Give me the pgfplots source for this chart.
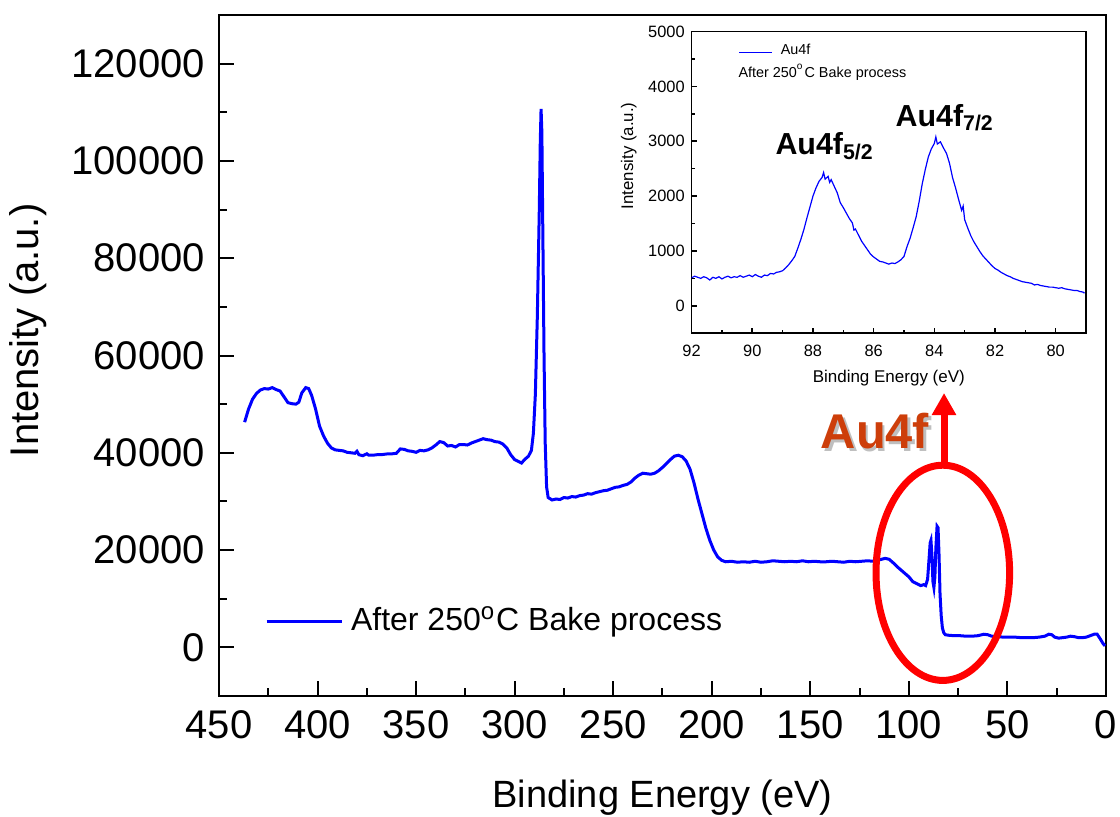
\documentclass[border=0pt]{standalone}
\usepackage{pgfplots}
\pgfplotsset{compat=1.18}
\usepackage{fontspec}
\setmainfont{Liberation Sans}
\usetikzlibrary{arrows.meta}
\definecolor{xpsblue}{RGB}{0,0,255}
\definecolor{aured}{RGB}{255,0,0}
\definecolor{aulabel}{RGB}{205,62,10}

\begin{document}
\begin{tikzpicture}
\useasboundingbox (0,0) rectangle (280pt,204pt);

% survey spectrum
\begin{axis}[
  at={(54.75pt,30pt)}, anchor=south west,
  width=221.75pt, height=170.25pt, scale only axis,
  xmin=0, xmax=450, x dir=reverse,
  ymin=-10000, ymax=130000,
  xtick={0,50,...,450}, minor x tick num=1,
  ytick={0,20000,...,120000}, minor y tick num=1,
  tick align=inside, xtick pos=bottom, ytick pos=left,
  major tick length=3.75pt, minor tick length=2pt,
  axis line style={line width=0.5pt},
  every tick/.style={black, line width=0.5pt},
  scaled ticks=false,
  /pgf/number format/fixed,
  /pgf/number format/set thousands separator={},
  /pgf/number format/assume math mode=true,
  tick label style={font=\fontsize{10}{12}\selectfont},
  xlabel={Binding Energy (eV)},
  xlabel style={font=\fontsize{9.5}{11}\selectfont, at={(axis description cs:0.5,-0.163)}, anchor=base},
  ylabel={Intensity (a.u.)},
  ylabel style={font=\fontsize{10}{12}\selectfont, at={(axis description cs:-0.215,0.537)}, anchor=center},
  legend style={draw=none, fill=none, at={(axis description cs:0.051,0.109)}, anchor=west,
    inner sep=0pt, font=\fontsize{8}{10}\selectfont},
  legend cell align=left,
  legend image code/.code={\draw[#1] (0pt,0pt) -- (18.75pt,0pt);},
]
\addplot[xpsblue, line width=0.75pt] coordinates {
(437,46300) (435,49000) (433,51000) (431,52200) (429,52900) (427,53200) (425,53100)
(423,53400) (421,53000) (419,52700) (417,51500) (415,50300) (413,50100) (411,50000)
(409.5,50400) (408,52300) (406,53400) (404.5,53200) (403,51800) (401,49000) (399,45500)
(397,43500) (395,42000) (393,41000) (391,40600) (389,40500) (387,40400) (385,40100)
(383,40000) (381,39900) (380,40300) (379,39600) (377,39400) (375,39800) (374,39500)
(372,39500) (370,39600) (368,39600) (366,39700) (364,39800) (362,39800) (360,39900)
(358,40800) (356,40700) (354,40400) (352,40300) (350,40100) (348,40500) (346,40400)
(344,40600) (342,41000) (340,41600) (338,42300) (336,42100) (334,41400) (332,41500)
(330,41200) (328,41700) (326,41700) (324,41600) (322,42000) (320,42300) (318,42600)
(316,42900) (314,42700) (312,42600) (310,42300) (308,42200) (306,41800) (304,41000)
(302,39600) (300,38600) (298,38200) (296.5,37900) (295,38600) (293,39300) (291.5,40500)
(290.5,44000) (289.5,52000) (288.5,68000) (287.5,90000) (287,104000) (286.6,110700)
(286.2,106000) (285.7,85000) (285.1,60000) (284.5,42000) (283.8,33000) (283,30800)
(281,30300) (279,30500) (277,30400) (275,30800) (273,30700) (271,31000) (269,30900)
(267,31200) (265,31300) (263,31600) (261,31500) (259,31800) (257,32000) (255,32200)
(253,32300) (251,32600) (249,32900) (247,33000) (245,33300) (243,33500) (241,34000)
(239,34800) (237,35400) (235,35800) (233,35700) (231,35600) (229,35800) (227,36300)
(225,37000) (223,37800) (221,38600) (219,39300) (217,39500) (215,39200) (213,38300)
(211,36600) (209,33800) (207,30500) (205,27500) (203,24500) (201,22000) (199,20000)
(197,18600) (195,17900) (193,17600) (190,17700) (187,17500) (184,17600) (181,17500)
(178,17700) (175,17500) (172,17600) (169,17800) (166,17700) (163,17600) (160,17700)
(157,17600) (154,17800) (151,17600) (148,17700) (145,17600) (142,17600) (139,17700)
(136,17600) (133,17500) (130,17700) (127,17600) (124,17700) (121,17800) (118,17700)
(115,18000) (112,18300) (110,18100) (108,17400) (106,16600) (104,15900) (102,15200)
(100,14500) (98,13500) (96,13100) (94,12700) (92.5,12900) (91.5,12700) (90.5,14000)
(89.8,18000) (89.2,21500) (88.8,22000) (88.3,19000) (87.8,13500) (87.3,12300)
(86.8,14500) (86.3,20500) (85.7,24900) (85.2,24600) (84.7,19000) (84.2,11000)
(83.6,6500) (83,4000) (82.3,3000) (81.5,2600) (80,2500) (77,2400) (74,2400) (71,2300)
(68,2300) (65,2400) (62,2700) (60,2600) (58,2300) (55,2200) (52,2100) (49,2100)
(46,2100) (43,2000) (40,2000) (37,2000) (34,2100) (31,2300) (29,2700) (27.5,2600)
(26,2100) (24,1900) (22,2000) (20,2100) (18,2300) (16,2200) (14,2000) (12,2000)
(10,2100) (8,2400) (6,2700) (4.5,2700) (3,1800) (1.5,800) (0.5,300)
};
\addlegendentry{After 250\textsuperscript{o}C Bake process}
\end{axis}

% Au4f high-resolution inset
\begin{axis}[
  at={(172.9pt,120.7pt)}, anchor=south west,
  width=98.6pt, height=75.4pt, scale only axis,
  xmin=79, xmax=92, x dir=reverse,
  ymin=-500, ymax=5000,
  xtick={80,82,...,92}, minor x tick num=1,
  ytick={0,1000,...,5000}, minor y tick num=1,
  tick align=inside, xtick pos=bottom, ytick pos=left,
  major tick length=1.4pt, minor tick length=0.85pt,
  axis line style={line width=0.4pt},
  every tick/.style={black, line width=0.4pt},
  scaled ticks=false,
  /pgf/number format/fixed,
  /pgf/number format/set thousands separator={},
  /pgf/number format/assume math mode=true,
  tick label style={font=\fontsize{4.1}{5}\selectfont},
  xticklabel style={yshift=0.5pt}, yticklabel style={xshift=1.8pt},
  xlabel={Binding Energy (eV)},
  xlabel style={font=\fontsize{4.25}{5}\selectfont, at={(axis description cs:0.5,-0.165)}, anchor=base},
  ylabel={Intensity (a.u.)},
  ylabel style={font=\fontsize{4.2}{5}\selectfont, at={(axis description cs:-0.159,0.588)}, anchor=center},
  legend style={draw=none, fill=none, at={(axis description cs:0.117,0.930)}, anchor=west,
    inner sep=0pt, font=\fontsize{3.6}{4.3}\selectfont},
  legend cell align=left,
  legend image code/.code={\draw[#1] (0pt,0pt) -- (8.25pt,0pt);},
]
\addplot[xpsblue, line width=0.3pt] coordinates {
(92.0,510) (91.9,540) (91.8,520) (91.7,500) (91.6,530) (91.5,510) (91.4,470) (91.3,520)
(91.2,500) (91.1,530) (91.0,490) (90.9,520) (90.8,540) (90.7,510) (90.6,530) (90.5,520)
(90.4,550) (90.3,520) (90.2,540) (90.1,560) (90.0,530) (89.9,570) (89.8,540) (89.7,520)
(89.6,560) (89.5,550) (89.4,590) (89.3,580) (89.2,610) (89.1,620) (89.0,640) (88.9,690)
(88.8,750) (88.7,820) (88.6,900) (88.5,1050) (88.4,1210) (88.3,1390) (88.2,1600)
(88.1,1800) (88.0,2000) (87.9,2150) (87.8,2270) (87.7,2340) (87.65,2430) (87.6,2310)
(87.5,2360) (87.45,2250) (87.4,2300) (87.3,2180) (87.2,2060) (87.1,1880) (87.0,1790)
(86.9,1690) (86.8,1590) (86.7,1510) (86.65,1380) (86.6,1400) (86.5,1290) (86.4,1180)
(86.3,1100) (86.2,1020) (86.1,940) (86.0,890) (85.9,850) (85.8,810) (85.7,800)
(85.6,780) (85.5,760) (85.4,780) (85.3,770) (85.2,800) (85.1,840) (85.0,900) (84.9,1080)
(84.8,1230) (84.7,1420) (84.6,1620) (84.5,1900) (84.4,2220) (84.3,2480) (84.2,2710)
(84.1,2860) (84.0,2960) (83.95,3080) (83.9,2950) (83.8,2990) (83.7,2880) (83.6,2780)
(83.5,2600) (83.4,2340) (83.3,2150) (83.2,1940) (83.1,1740) (83.05,1820) (83.0,1570)
(82.9,1420) (82.8,1280) (82.7,1170) (82.6,1080) (82.5,990) (82.4,910) (82.3,850)
(82.2,790) (82.1,730) (82.0,680) (81.9,650) (81.8,610) (81.7,580) (81.6,550) (81.5,530)
(81.4,500) (81.3,480) (81.2,460) (81.1,440) (81.0,430) (80.9,420) (80.8,410) (80.7,380)
(80.6,390) (80.5,370) (80.4,360) (80.3,350) (80.2,340) (80.1,340) (80.0,330) (79.9,320)
(79.8,330) (79.7,310) (79.6,300) (79.5,290) (79.4,280) (79.3,280) (79.2,260) (79.1,250)
(79.05,230)
};
\addlegendentry{Au4f}
\node[anchor=west, font=\fontsize{3.6}{4.3}\selectfont, inner sep=0pt]
  at (axis description cs:0.117,0.865) {After 250\textsuperscript{o}C Bake process};
\node[anchor=base, font=\bfseries\fontsize{7.6}{9}\selectfont]
  at (axis cs:87.6,2753) {Au4f\textsubscript{5/2}};
\node[anchor=base, font=\bfseries\fontsize{7.6}{9}\selectfont]
  at (axis cs:83.64,3269) {Au4f\textsubscript{7/2}};
\end{axis}

% highlight of the Au4f region
\draw[aured, line width=1.75pt] (235.7pt,60.8pt) ellipse [x radius=16.7pt, y radius=26.9pt];
\draw[aured, line width=1.75pt, -{Triangle[width=5.75pt,length=5.5pt]}] (236pt,87.5pt) -- (236pt,105.75pt);
\node[text=black!25, font=\bfseries\fontsize{12.2}{14}\selectfont] at (219.4pt,95.6pt) {Au4f};
\node[text=aulabel, font=\bfseries\fontsize{12.2}{14}\selectfont] at (218.75pt,96.25pt) {Au4f};
\end{tikzpicture}
\end{document}
